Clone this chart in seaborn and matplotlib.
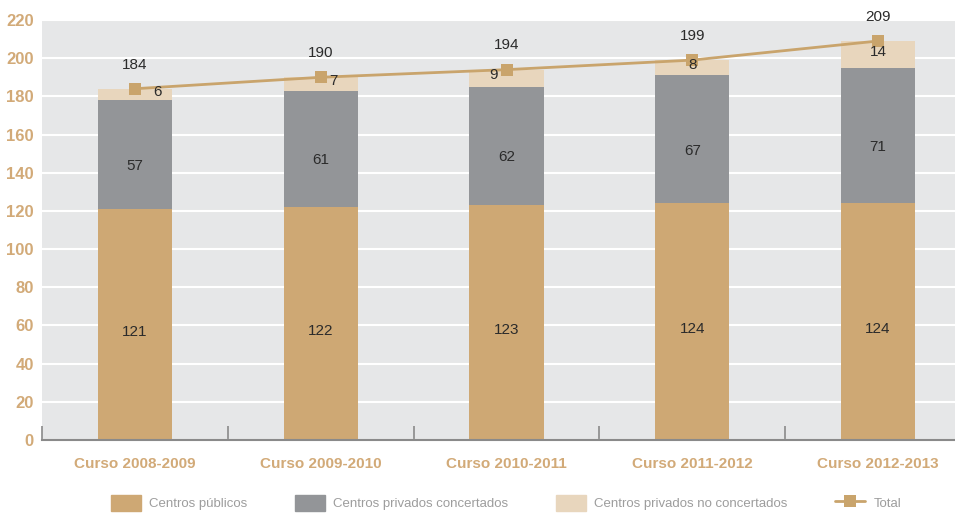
import numpy as np
import pandas as pd
import matplotlib
matplotlib.use("Agg")
import matplotlib.pyplot as plt
import seaborn as sns
from matplotlib.patches import Patch
from matplotlib.lines import Line2D

cursos = ["Curso 2008-2009", "Curso 2009-2010", "Curso 2010-2011", "Curso 2011-2012", "Curso 2012-2013"]
publicos = [121, 122, 123, 124, 124]
concertados = [57, 61, 62, 67, 71]
no_concertados = [6, 7, 9, 8, 14]
totales = [184, 190, 194, 199, 209]
yticks = [0, 20, 40, 60, 80, 100, 120, 140, 160, 180, 200, 220]
series_names = ["Centros públicos", "Centros privados concertados", "Centros privados no concertados", "Total"]

sns.set_style("white")
plt.rcParams['font.family'] = ['Liberation Sans', 'DejaVu Sans']

c_pub = "#cea874"
c_con = "#939598"
c_noc = "#e8d6bd"
c_line = "#c9a46c"
c_tick = "#d2aa78"
c_bg = "#e6e7e8"
c_txt = "#2b2b2b"

df = pd.DataFrame({"curso": cursos, "pub": publicos, "con": concertados, "noc": no_concertados, "tot": totales})
df["b2"] = df["pub"]
df["b3"] = df["pub"] + df["con"]

fig = plt.figure(figsize=(9.55, 5.17), dpi=100)
ax = fig.add_axes([42/955, 77/517, (971-42)/955, 420/517])
ax.set_facecolor(c_bg)

w = 0.4
sns.barplot(data=df, x="curso", y="pub", color=c_pub, width=w, ax=ax, saturation=1, linewidth=0, zorder=2)
sns.barplot(data=df, x="curso", y="con", bottom=df["b2"], color=c_con, width=w, ax=ax, saturation=1, linewidth=0, zorder=2)
sns.barplot(data=df, x="curso", y="noc", bottom=df["b3"], color=c_noc, width=w, ax=ax, saturation=1, linewidth=0, zorder=2)
sns.lineplot(x=np.arange(len(cursos)), y=totales, color=c_line, marker="s", markersize=9,
             markeredgewidth=0, linewidth=2, ax=ax, zorder=4)

ax.set_xlim(-0.5, 4.5)
ax.set_ylim(0, 220)
ax.set_yticks(yticks)
ax.yaxis.grid(True, color="white", linewidth=1.5, zorder=0)
ax.set_axisbelow(True)
for s in ["top", "right", "left"]:
    ax.spines[s].set_visible(False)
ax.spines["bottom"].set_color("#8a8a8a")
ax.spines["bottom"].set_linewidth(1.5)
ax.set_xlabel("")
ax.set_ylabel("")
ax.tick_params(axis="y", length=0, pad=6, labelsize=12, labelcolor=c_tick)
ax.set_xticks(np.arange(len(cursos)))
ax.set_xticklabels(cursos)
ax.tick_params(axis="x", which="major", length=0, pad=12, labelsize=11, labelcolor=c_tick)
for lab in ax.get_yticklabels() + ax.get_xticklabels():
    lab.set_fontweight("bold")
ax.set_xticks(np.arange(-0.5, 5.0, 1.0), minor=True)
ax.tick_params(axis="x", which="minor", bottom=True, direction="in", length=10, width=1.2, color="#8a8a8a")

# value labels
offs_small = [0.12, 0.07, -0.07, 0.0, 0.0]
for i in range(len(cursos)):
    ax.text(i, publicos[i] / 2 - 4, str(publicos[i]), ha="center", va="center", fontsize=11, color=c_txt, zorder=5)
    ax.text(i, publicos[i] + concertados[i] / 2 - 6, str(concertados[i]), ha="center", va="center", fontsize=11, color=c_txt, zorder=5)
    ax.text(i + offs_small[i], publicos[i] + concertados[i] + no_concertados[i] / 2 + 1.5, str(no_concertados[i]),
            ha="center", va="center", fontsize=11, color=c_txt, zorder=5)
    ax.text(i, totales[i] + 9, str(totales[i]), ha="center", va="bottom", fontsize=11, color=c_txt, zorder=5)

handles = [Patch(color=c_pub), Patch(color=c_con), Patch(color=c_noc),
           Line2D([0], [0], color=c_line, marker="s", markersize=9, markeredgewidth=0, linewidth=2)]
leg = fig.legend(handles, series_names, loc="center", bbox_to_anchor=(506/955, 14/517), ncol=4, frameon=False,
                 fontsize=9.5, handlelength=2.3, handleheight=1.5, columnspacing=3.6, handletextpad=0.6)
for t in leg.get_texts():
    t.set_color("#9d9d9d")

fig.savefig("out.png", dpi=100)
